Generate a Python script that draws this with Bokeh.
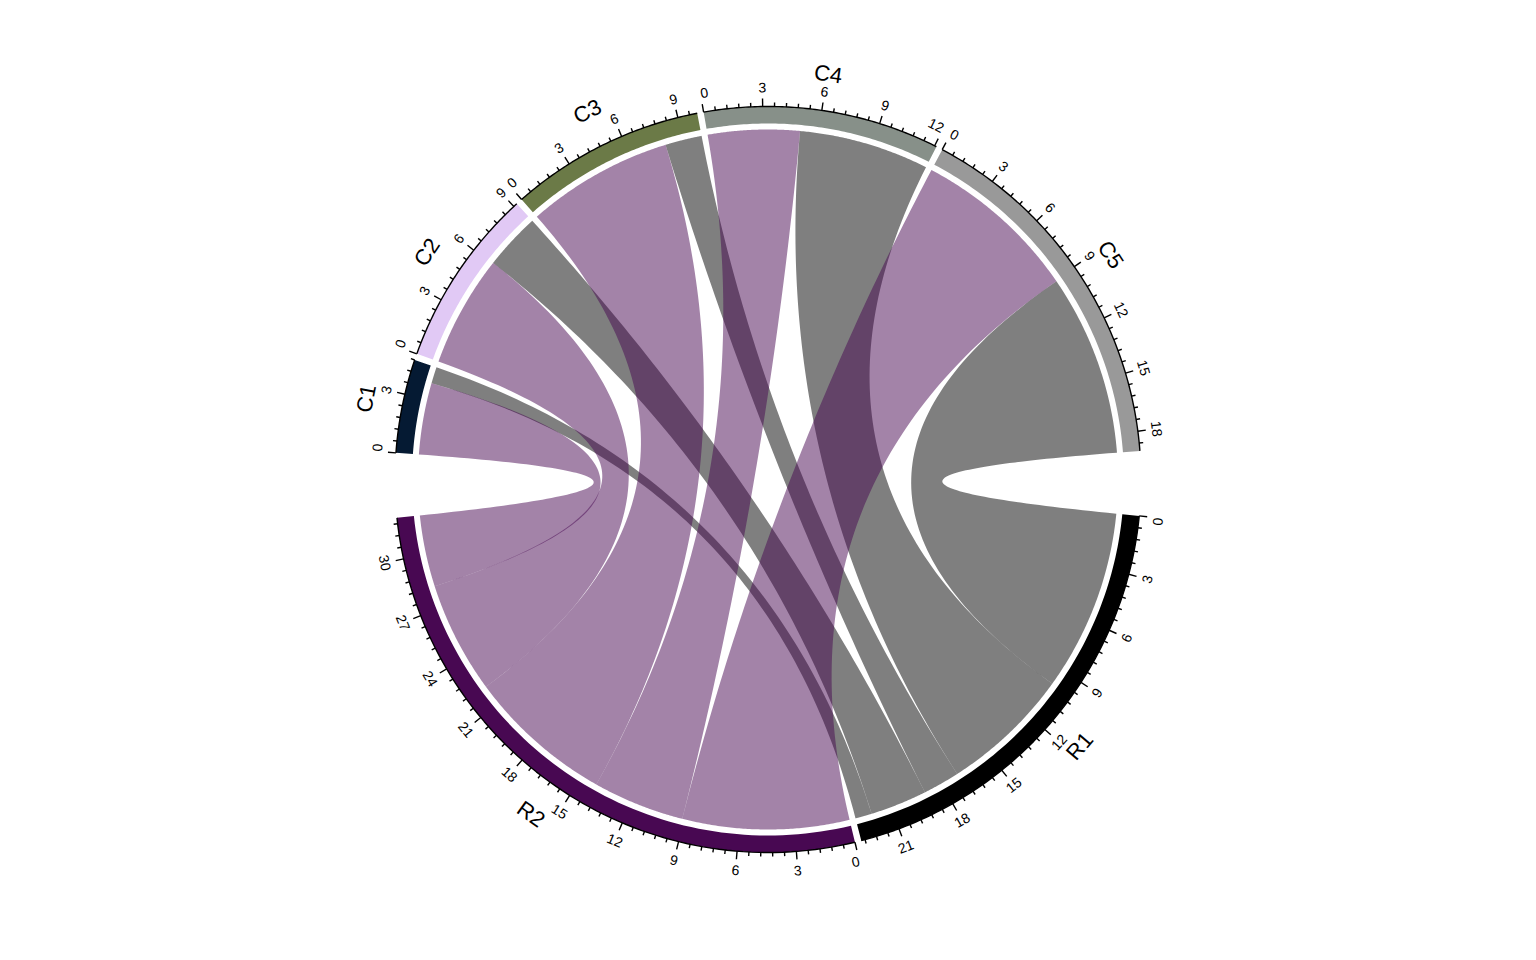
import numpy as np
from bokeh.plotting import figure
from bokeh.models import Range1d, ColumnDataSource
from bokeh.core.properties import value
from bokeh.embed import file_html
from bokeh.resources import INLINE

# ---------------- data ----------------
rows = ["R1", "R2"]
cols = ["C1", "C2", "C3", "C4", "C5"]
r1_values = [0.9, 3.1, 2.0, 7.1, 9.9]
r2_values = [3.9, 6.1, 8.0, 5.0, 9.1]
row_colors = ["#000000", "#480852"]
col_colors = ["#051A33", "#E1C9F5", "#6B7A47", "#879089", "#999999"]
link_colors = ["#000000", "#480852"]
major_step = 3
minor_per_major = 4

mat = np.array([r1_values, r2_values], dtype=float)

# ---------------- layout ----------------
W, H = 1536, 960
CX, CY = 767.5, 481.0
R_OUT, R_IN, R_LINK = 373.0, 356.0, 350.0
START = -5.6
SMALL_GAP, BIG_GAP = 1.0, 10.0
FONT = value("Liberation Sans")
TICK_FS = 14.0

sectors = rows + cols
sector_colors = row_colors + col_colors
totals = list(mat.sum(axis=1)) + list(mat.sum(axis=0))
gaps = [SMALL_GAP, BIG_GAP] + [SMALL_GAP] * (len(cols) - 1) + [BIG_GAP]
k = (360.0 - sum(gaps)) / sum(totals)
sec_start = {}
th = START
for name, tot, g in zip(sectors, totals, gaps):
    sec_start[name] = th
    th -= tot * k + g


def ang(sector, u):
    return np.deg2rad(sec_start[sector] - u * k)


def pol(r, a):
    return CX + r * np.cos(a), CY + r * np.sin(a)


def arc_pts(r, a0, a1, n=80):
    a = np.linspace(a0, a1, n)
    return list(CX + r * np.cos(a)), list(CY + r * np.sin(a))


def bez(p0, p2, n=80):
    t = np.linspace(0, 1, n)
    x = (1 - t) ** 2 * p0[0] + 2 * t * (1 - t) * CX + t ** 2 * p2[0]
    y = (1 - t) ** 2 * p0[1] + 2 * t * (1 - t) * CY + t ** 2 * p2[1]
    return list(x), list(y)


p = figure(width=W, height=H, x_range=Range1d(0, W), y_range=Range1d(0, H),
           output_backend="svg", toolbar_location=None, min_border=0)
p.axis.visible = False
p.grid.visible = False
p.outline_line_color = None
p.background_fill_color = "white"
p.border_fill_color = "white"

# ---------------- links ----------------
for i, rname in enumerate(rows):
    lx, ly = [], []
    for j, cname in enumerate(cols):
        v = mat[i, j]
        u0 = mat[i, j + 1:].sum()          # row sector: columns in reverse order
        w0 = mat[i + 1:, j].sum()          # column sector: rows in reverse order
        a0, a1 = ang(rname, u0), ang(rname, u0 + v)
        b0, b1 = ang(cname, w0), ang(cname, w0 + v)
        xs, ys = [], []
        x, y = arc_pts(R_LINK, a0, a1); xs += x; ys += y
        x, y = bez(pol(R_LINK, a1), pol(R_LINK, b0)); xs += x; ys += y
        x, y = arc_pts(R_LINK, b0, b1); xs += x; ys += y
        x, y = bez(pol(R_LINK, b1), pol(R_LINK, a0)); xs += x; ys += y
        lx.append(xs); ly.append(ys)
    p.patches(lx, ly, fill_color=link_colors[i], fill_alpha=0.5, line_color=None)

# ---------------- tracks ----------------
tx, ty = [], []
for name, tot in zip(sectors, totals):
    a0, a1 = ang(name, 0), ang(name, tot)
    xo, yo = arc_pts(R_OUT, a0, a1)
    xi, yi = arc_pts(R_IN, a1, a0)
    tx.append(xo + xi); ty.append(yo + yi)
p.patches(tx, ty, fill_color=sector_colors, line_color=None)


# ---------------- axes ----------------
def upper(a):
    return (np.rad2deg(a) % 360) <= 180


def facing(a):
    return a - np.pi / 2 if upper(a) else a + np.pi / 2


axx, axy = [], []
sx0, sy0, sx1, sy1 = [], [], [], []
labs = {al: dict(x=[], y=[], text=[], angle=[]) for al in ("left", "center", "right")}
minor = major_step / (minor_per_major + 1)
for name, tot in zip(sectors, totals):
    x, y = arc_pts(R_OUT, ang(name, 0), ang(name, tot))
    axx.append(x); axy.append(y)
    n_ticks = int(np.floor(tot / minor + 1e-9))
    for t in range(n_ticks + 1):
        u = t * minor
        a = ang(name, u)
        is_major = t % (minor_per_major + 1) == 0
        ln = 8 if is_major else 4
        x0, y0 = pol(R_OUT, a)
        x1, y1 = pol(R_OUT + ln, a)
        sx0.append(x0); sy0.append(y0); sx1.append(x1); sy1.append(y1)
        if is_major:
            txt = str(int(round(u)))
            half_w_units = 0.556 * TICK_FS * len(txt) / 2 / ((R_OUT + 19) * np.deg2rad(k))
            if u == 0:
                al = "left" if upper(a) else "right"
            elif u + half_w_units > tot:
                al = "right" if upper(a) else "left"
            else:
                al = "center"
            lx_, ly_ = pol(R_OUT + 19, a)
            d = labs[al]
            d["x"].append(lx_); d["y"].append(ly_)
            d["text"].append(txt)
            d["angle"].append(facing(a))
p.multi_line(axx, axy, line_color="black", line_width=1.4)
p.segment(sx0, sy0, sx1, sy1, line_color="black", line_width=1.4)
for al, d in labs.items():
    if d["x"]:
        p.text(x="x", y="y", text="text", angle="angle", source=ColumnDataSource(d),
               text_font=FONT, text_font_size=f"{TICK_FS:g}px", text_align=al,
               text_baseline="middle", text_color="black")

# ---------------- sector names ----------------
nm = dict(x=[], y=[], text=[], angle=[])
for name, tot in zip(sectors, totals):
    a = ang(name, tot / 2)
    x, y = pol(410, a)
    nm["x"].append(x); nm["y"].append(y); nm["text"].append(name)
    nm["angle"].append(facing(a))
p.text(x="x", y="y", text="text", angle="angle", source=ColumnDataSource(nm),
       text_font=FONT, text_font_size="22px", text_align="center",
       text_baseline="middle", text_color="black")

open("out.html", "w").write(file_html(p, INLINE))
